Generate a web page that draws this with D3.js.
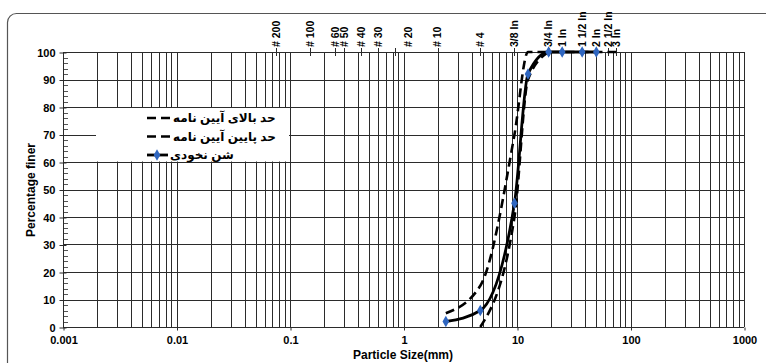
<!DOCTYPE html>
<html>
<head>
<meta charset="utf-8">
<script src="https://cdn.jsdelivr.net/npm/d3@7"></script>
<style>
  html, body { margin: 0; padding: 0; background: #fff; }
  svg { display: block; }
  text { font-family: Arial, "Liberation Sans", "DejaVu Sans", sans-serif; font-weight: bold; fill: #000; }
</style>
</head>
<body>
<svg id="chart" width="766" height="363"></svg>
<script>
// Sieve designations shown along the top edge and their opening sizes (mm)
const sieveLabels = ["# 200", "# 100", "# 60", "# 50", "# 40", "# 30", "# 20", "# 10", "# 4",
  "3/8 In", "3/4 In", "1 In", "1 1/2 In", "2 In", "2 1/2 In", "3 In"];
const sieveSizes = [0.075, 0.15, 0.25, 0.3, 0.425, 0.6, 0.85, 2.0, 4.75, 9.5, 19, 25, 37.5, 50, 63, 75];

// Bottom axis and left axis tick labels
const xTickValues = [0.001, 0.01, 0.1, 1, 10, 100, 1000];
const xTickLabels = ["0.001", "0.01", "0.1", "1", "10", "100", "1000"];
const yTickValues = [0, 10, 20, 30, 40, 50, 60, 70, 80, 90, 100];

// Specification envelope (upper / lower limits)
const upperSize = [2.36, 4.75, 9.5, 12.5, 19, 75];
const upperPct = [5, 15, 70, 100, 100, 100];
const lowerSize = [4.75, 9.5, 12.5, 19];
const lowerPct = [0, 40, 90, 100];

// Measured grading of the pea gravel sample
const sampleSize = [2.36, 4.75, 9.5, 12.5, 19, 25, 37.5, 50];
const samplePct = [2, 6, 45, 92, 100, 100, 100, 100];

// Legend entries
const seriesNames = ["حد بالای آیین نامه", "حد پایین آیین نامه", "شن نخودی"];

const svg = d3.select("#chart");
const plotL = 63, plotR = 744, plotT = 52, plotB = 327;

const x = d3.scaleLog().domain([0.001, 1000]).range([plotL, plotR]);
const y = d3.scaleLinear().domain([0, 100]).range([plotB, plotT]);
const snap = v => Math.round(v) + 0.5;

// outer rounded frame
svg.append("rect")
  .attr("x", 7.5).attr("y", 13.5).attr("width", 820).attr("height", 420)
  .attr("rx", 9).attr("ry", 9)
  .attr("fill", "none").attr("stroke", "#555").attr("stroke-width", 1.2);

const grid = svg.append("g").attr("stroke", "#2b2b2b").attr("stroke-width", 1).attr("shape-rendering", "crispEdges");

// vertical grid at every 1..9 of each decade
const vLines = [];
for (let e = -3; e < 3; e++) for (let m = 1; m <= 9; m++) vLines.push(m * Math.pow(10, e));
vLines.push(1000);
grid.selectAll("line.v").data(vLines).join("line").attr("class", "v")
  .attr("x1", d => snap(x(d))).attr("x2", d => snap(x(d)))
  .attr("y1", plotT).attr("y2", plotB);

// horizontal grid every 10 %
grid.selectAll("line.h").data(yTickValues).join("line").attr("class", "h")
  .attr("x1", plotL).attr("x2", plotR)
  .attr("y1", d => snap(y(d))).attr("y2", d => snap(y(d)));

// left axis: major ticks crossing, minor ticks inside every 2 %
const yAxis = d3.axisLeft(y).tickValues(yTickValues).tickSize(4).tickPadding(4);
const yg = svg.append("g").attr("transform", `translate(${snap(plotL)},0.5)`).call(yAxis);
yg.select(".domain").remove();
yg.selectAll(".tick line").attr("x1", 3).attr("stroke", "#2b2b2b");
yg.selectAll(".tick text").attr("font-size", 11).attr("font-weight", "bold")
  .attr("font-family", 'Arial, "Liberation Sans", sans-serif').attr("x", -8);
const minor = d3.range(2, 100, 2).filter(v => v % 10 !== 0);
svg.append("g").selectAll("line").data(minor).join("line")
  .attr("x1", snap(plotL)).attr("x2", snap(plotL) + 4)
  .attr("y1", d => snap(y(d))).attr("y2", d => snap(y(d)))
  .attr("stroke", "#555").attr("stroke-width", 1).attr("shape-rendering", "crispEdges");

// bottom axis
const xAxis = d3.axisBottom(x).tickValues(xTickValues)
  .tickFormat((d, i) => xTickLabels[i]).tickSize(3).tickPadding(6);
const xg = svg.append("g").attr("transform", `translate(0.5,${snap(plotB)})`).call(xAxis);
xg.select(".domain").remove();
xg.selectAll(".tick line").attr("stroke", "#2b2b2b");
xg.selectAll(".tick text").attr("font-size", 11).attr("font-weight", "bold")
  .attr("font-family", 'Arial, "Liberation Sans", sans-serif');

// sieve ticks and labels along the top edge
const sieve = svg.append("g");
sieve.selectAll("line").data(sieveSizes).join("line")
  .attr("x1", d => snap(x(d))).attr("x2", d => snap(x(d)))
  .attr("y1", plotT - 4).attr("y2", plotT + 4)
  .attr("stroke", "#2b2b2b").attr("stroke-width", 1).attr("shape-rendering", "crispEdges");
sieve.selectAll("text").data(sieveLabels).join("text")
  .attr("transform", (d, i) => `translate(${x(sieveSizes[i]) + (d === "# 20" ? 13 : 0)},47) rotate(-90)`)
  .attr("dy", "0.36em")
  .attr("font-size", 10.5)
  .text(d => d);

// series lines (smoothed without overshoot)
const line = (xs, ys) => d3.line().curve(d3.curveMonotoneX)
  .x((d, i) => x(xs[i])).y((d, i) => y(ys[i]))(xs);

svg.append("path").attr("d", line(upperSize, upperPct))
  .attr("fill", "none").attr("stroke", "#000").attr("stroke-width", 2.6).attr("stroke-dasharray", "9,5");
svg.append("path").attr("d", line(lowerSize, lowerPct))
  .attr("fill", "none").attr("stroke", "#000").attr("stroke-width", 2.6).attr("stroke-dasharray", "9,5");
svg.append("path").attr("d", line(sampleSize, samplePct))
  .attr("fill", "none").attr("stroke", "#000").attr("stroke-width", 2.8);

const diamond = d3.symbol().type(d3.symbolDiamond).size(38);
svg.append("g").selectAll("path").data(sampleSize).join("path")
  .attr("d", diamond)
  .attr("transform", (d, i) => `translate(${x(d)},${y(samplePct[i])})`)
  .attr("fill", "#2f66c0");

// legend
const lg = svg.append("g");
lg.append("rect").attr("x", 96).attr("y", 108).attr("width", 193).attr("height", 53.5).attr("fill", "#fff");
const rowsY = [118, 136.5, 155];
[0, 1].forEach(i => {
  lg.append("line").attr("x1", 147).attr("x2", 171).attr("y1", rowsY[i]).attr("y2", rowsY[i])
    .attr("stroke", "#000").attr("stroke-width", 2.6).attr("stroke-dasharray", "9,5");
});
lg.append("line").attr("x1", 147).attr("x2", 168).attr("y1", rowsY[2]).attr("y2", rowsY[2])
  .attr("stroke", "#000").attr("stroke-width", 2.8);
lg.append("path").attr("d", diamond).attr("transform", `translate(157,${rowsY[2]})`).attr("fill", "#2f66c0");
lg.selectAll("text").data(seriesNames).join("text")
  .attr("x", (d, i) => i === 2 ? 170 : 173)
  .attr("y", (d, i) => rowsY[i]).attr("dy", "0.35em")
  .attr("font-size", 12)
  .text(d => d);

// axis titles
svg.append("text").attr("x", 403).attr("y", 359).attr("text-anchor", "middle")
  .attr("font-size", 12).text("Particle Size(mm)");
svg.append("text").attr("transform", "translate(35,190) rotate(-90)").attr("text-anchor", "middle")
  .attr("font-size", 12).text("Percentage finer");
</script>
</body>
</html>
